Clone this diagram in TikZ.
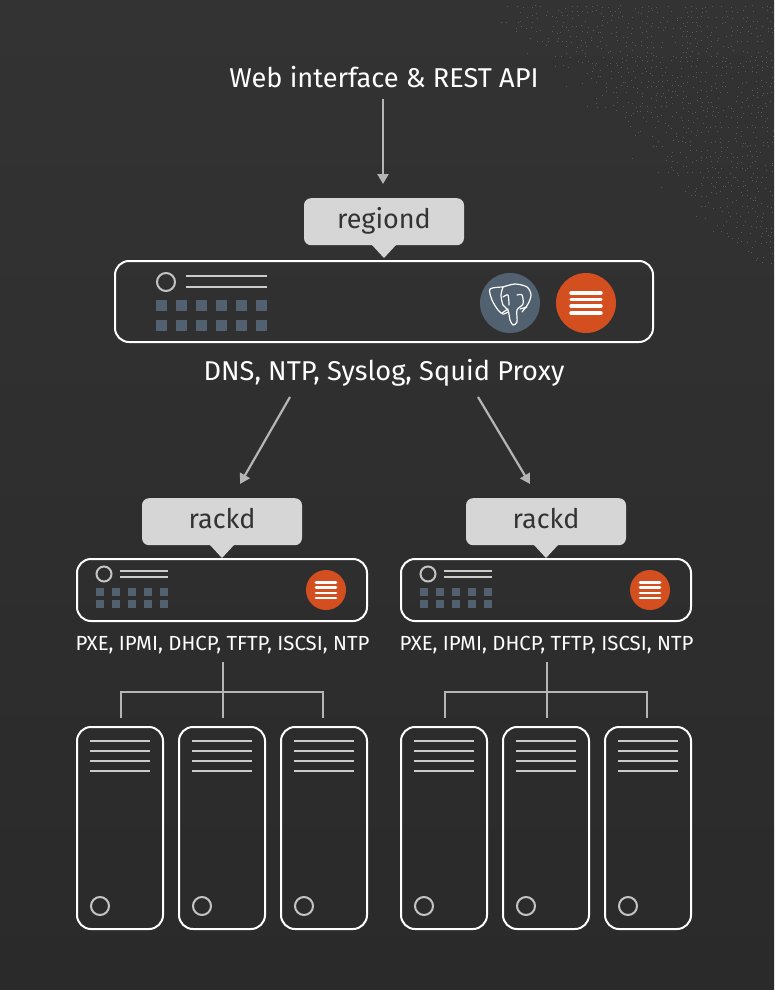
\documentclass[tikz,border=0pt]{standalone}
\usepackage{fontspec}
\setmainfont{Fira Sans}
\usetikzlibrary{arrows.meta}
\definecolor{bgtop}{HTML}{333333}
\definecolor{bgbot}{HTML}{2A2A2A}
\definecolor{tagfill}{HTML}{D6D6D6}
\definecolor{tagtext}{HTML}{333333}
\definecolor{linkgrey}{HTML}{B5B5B5}
\definecolor{slate}{HTML}{516170}
\definecolor{ored}{HTML}{D34F1F}
\definecolor{stipple}{HTML}{565C62}
\tikzset{
  x=1pt,y=-1pt,
  chassis/.style={draw=white,line width=2pt,rounded corners=14pt,fill=none},
  rule/.style={draw=linkgrey!70!white,line width=2pt},
  link/.style={draw=linkgrey,line width=2.2pt},
  arrowlink/.style={link,-{Triangle[length=10pt,width=11pt]}},
  tagbox/.style={fill=tagfill,rounded corners=7pt,text=tagtext,
    font=\fontsize{27}{27}\selectfont,minimum width=160pt,minimum height=47pt,
    inner sep=0pt,text height=20pt,text depth=7pt,anchor=north},
  tagtail/.style={fill=tagfill},
  caption/.style={text=white,inner sep=0pt,anchor=base},
  bigcap/.style={caption,font=\fontsize{27.2}{28}\selectfont},
  smallcap/.style={caption,font=\fontsize{20.4}{21}\selectfont},
  lamp/.style={draw=linkgrey!80!white,line width=2pt,fill=none},
  led/.style={fill=slate},
  burger/.style={draw=white,line width=3.4pt,line cap=round},
  trunkline/.style={draw=white,line width=1.2pt,line join=round,line cap=round},
}
\newcommand{\bladeunit}[1]{% left
  \draw[chassis] (#1,727) rectangle (#1+86,929);
  \foreach \yy in {741,751,761,771} \draw[rule] (#1+13,\yy) -- (#1+73,\yy);
  \draw[lamp] (#1+23,906) circle (9);
}
\newcommand{\rackunit}[2]{% left, suffix
  \node[tagbox] (rackd#2) at (#1+145,498) {rackd};
  \fill[tagtail] (#1+133,545) -- (#1+157,545) -- (#1+145,558) -- cycle;
  \draw[chassis] (#1,559) rectangle (#1+290,621);
  \draw[lamp] (#1+27,574) circle (7.5);
  \draw[rule] (#1+43,571) -- (#1+91,571);
  \draw[rule] (#1+43,577) -- (#1+91,577);
  \foreach \xx in {19,35,51,67,83} {
    \fill[led] (#1+\xx,588) rectangle ++(8,8);
    \fill[led] (#1+\xx,600) rectangle ++(8,8);
  }
  \fill[ored] (#1+249,590) circle (20);
  \foreach \yy in {582.5,587.7,592.9,598} \draw[burger,line width=2.8pt] (#1+239,\yy) -- (#1+259,\yy);
  \node[smallcap] (svc#2) at (#1+145.5,650) {PXE, IPMI, DHCP, TFTP, ISCSI, NTP};
  \coordinate (dropA#2) at (#1+44,718);
  \coordinate (dropB#2) at (#1+146,718);
  \coordinate (dropC#2) at (#1+246,718);
  \coordinate (armA#2) at (#1+44,692);
  \coordinate (armC#2) at (#1+246,692);
  \draw[link] ([yshift=-8pt]dropB#2 |- svc#2.south) -- (dropB#2);
  \draw[link] (dropA#2) -- (armA#2) -- (armC#2) -- (dropC#2);
  \bladeunit{#1}
  \bladeunit{#1+102}
  \bladeunit{#1+204}
}
\begin{document}
\begin{tikzpicture}
\useasboundingbox (0,0) rectangle (774,990);
\shade[top color=bgtop,bottom color=bgbot] (0,0) rectangle (774,990);
% stipple in the top right corner
\pgfmathsetseed{4242}
\foreach \px in {500,505,...,770} {
  \foreach \py in {5,10,...,260} {
    \pgfmathsetmacro{\edge}{\px-\py-470}
    \pgfmathsetmacro{\keep}{rnd<(min(\edge/60,1)*0.6) ? 1 : 0}
    \ifdim\keep pt>0.5pt
      \pgfmathsetmacro{\jx}{\px+rnd*3}
      \pgfmathsetmacro{\jy}{\py+rnd*3}
      \fill[stipple] (\jx,\jy) rectangle ++(1,1);
    \fi
  }
}
% region
\node[bigcap] (web) at (384,87) {Web interface \& REST API};
\node[tagbox] (regiond) at (384,198) {regiond};
\fill[tagtail] (372,245) -- (396,245) -- (384,258) -- cycle;
\draw[chassis] (115,261) rectangle (653,342);
\draw[lamp] (166,282) circle (9);
\draw[rule] (186,276) -- (267,276);
\draw[rule] (186,287) -- (267,287);
\foreach \xx in {156,176,196,216,236,256} {
  \fill[led] (\xx,300) rectangle ++(11,11);
  \fill[led] (\xx,320) rectangle ++(11,11);
}
\fill[slate] (510,303) circle (30);
\draw[trunkline] plot[smooth] coordinates {(503,287) (490,289) (492,300) (498,310) (503,314) (508,312)};
\draw[trunkline] plot[smooth] coordinates {(503,287) (515,284) (527,287) (531,295) (528,304) (522,312)};
\draw[trunkline] plot[smooth] coordinates {(503,287) (501,295) (503,305) (508,310) (510,320) (513,325) (517,322) (517,310) (523,304) (522,295) (517,295)};
\draw[trunkline] plot[smooth] coordinates {(503,297) (508,295) (509,305)};
\draw[trunkline] (502,313) -- (508,309);
\draw[trunkline] (520,309) -- (527,307);
\fill[ored] (586,303) circle (30);
\foreach \yy in {293,299.5,306,313} \draw[burger] (571,\yy) -- (601,\yy);
\node[bigcap] (proxy) at (384,380) {DNS, NTP, Syslog, Squid Proxy};
\rackunit{77}{L}
\rackunit{401}{R}
% arrows
\draw[arrowlink] ([xshift=-1pt,yshift=-11pt]web.south) -- ([xshift=-1pt,yshift=14pt]regiond.north);
\draw[arrowlink] ([xshift=-94pt,yshift=-11pt]proxy.south) -- ([xshift=18pt,yshift=14pt]rackdL.north);
\draw[arrowlink] ([xshift=94pt,yshift=-11pt]proxy.south) -- ([xshift=-16pt,yshift=14pt]rackdR.north);
\end{tikzpicture}
\end{document}
